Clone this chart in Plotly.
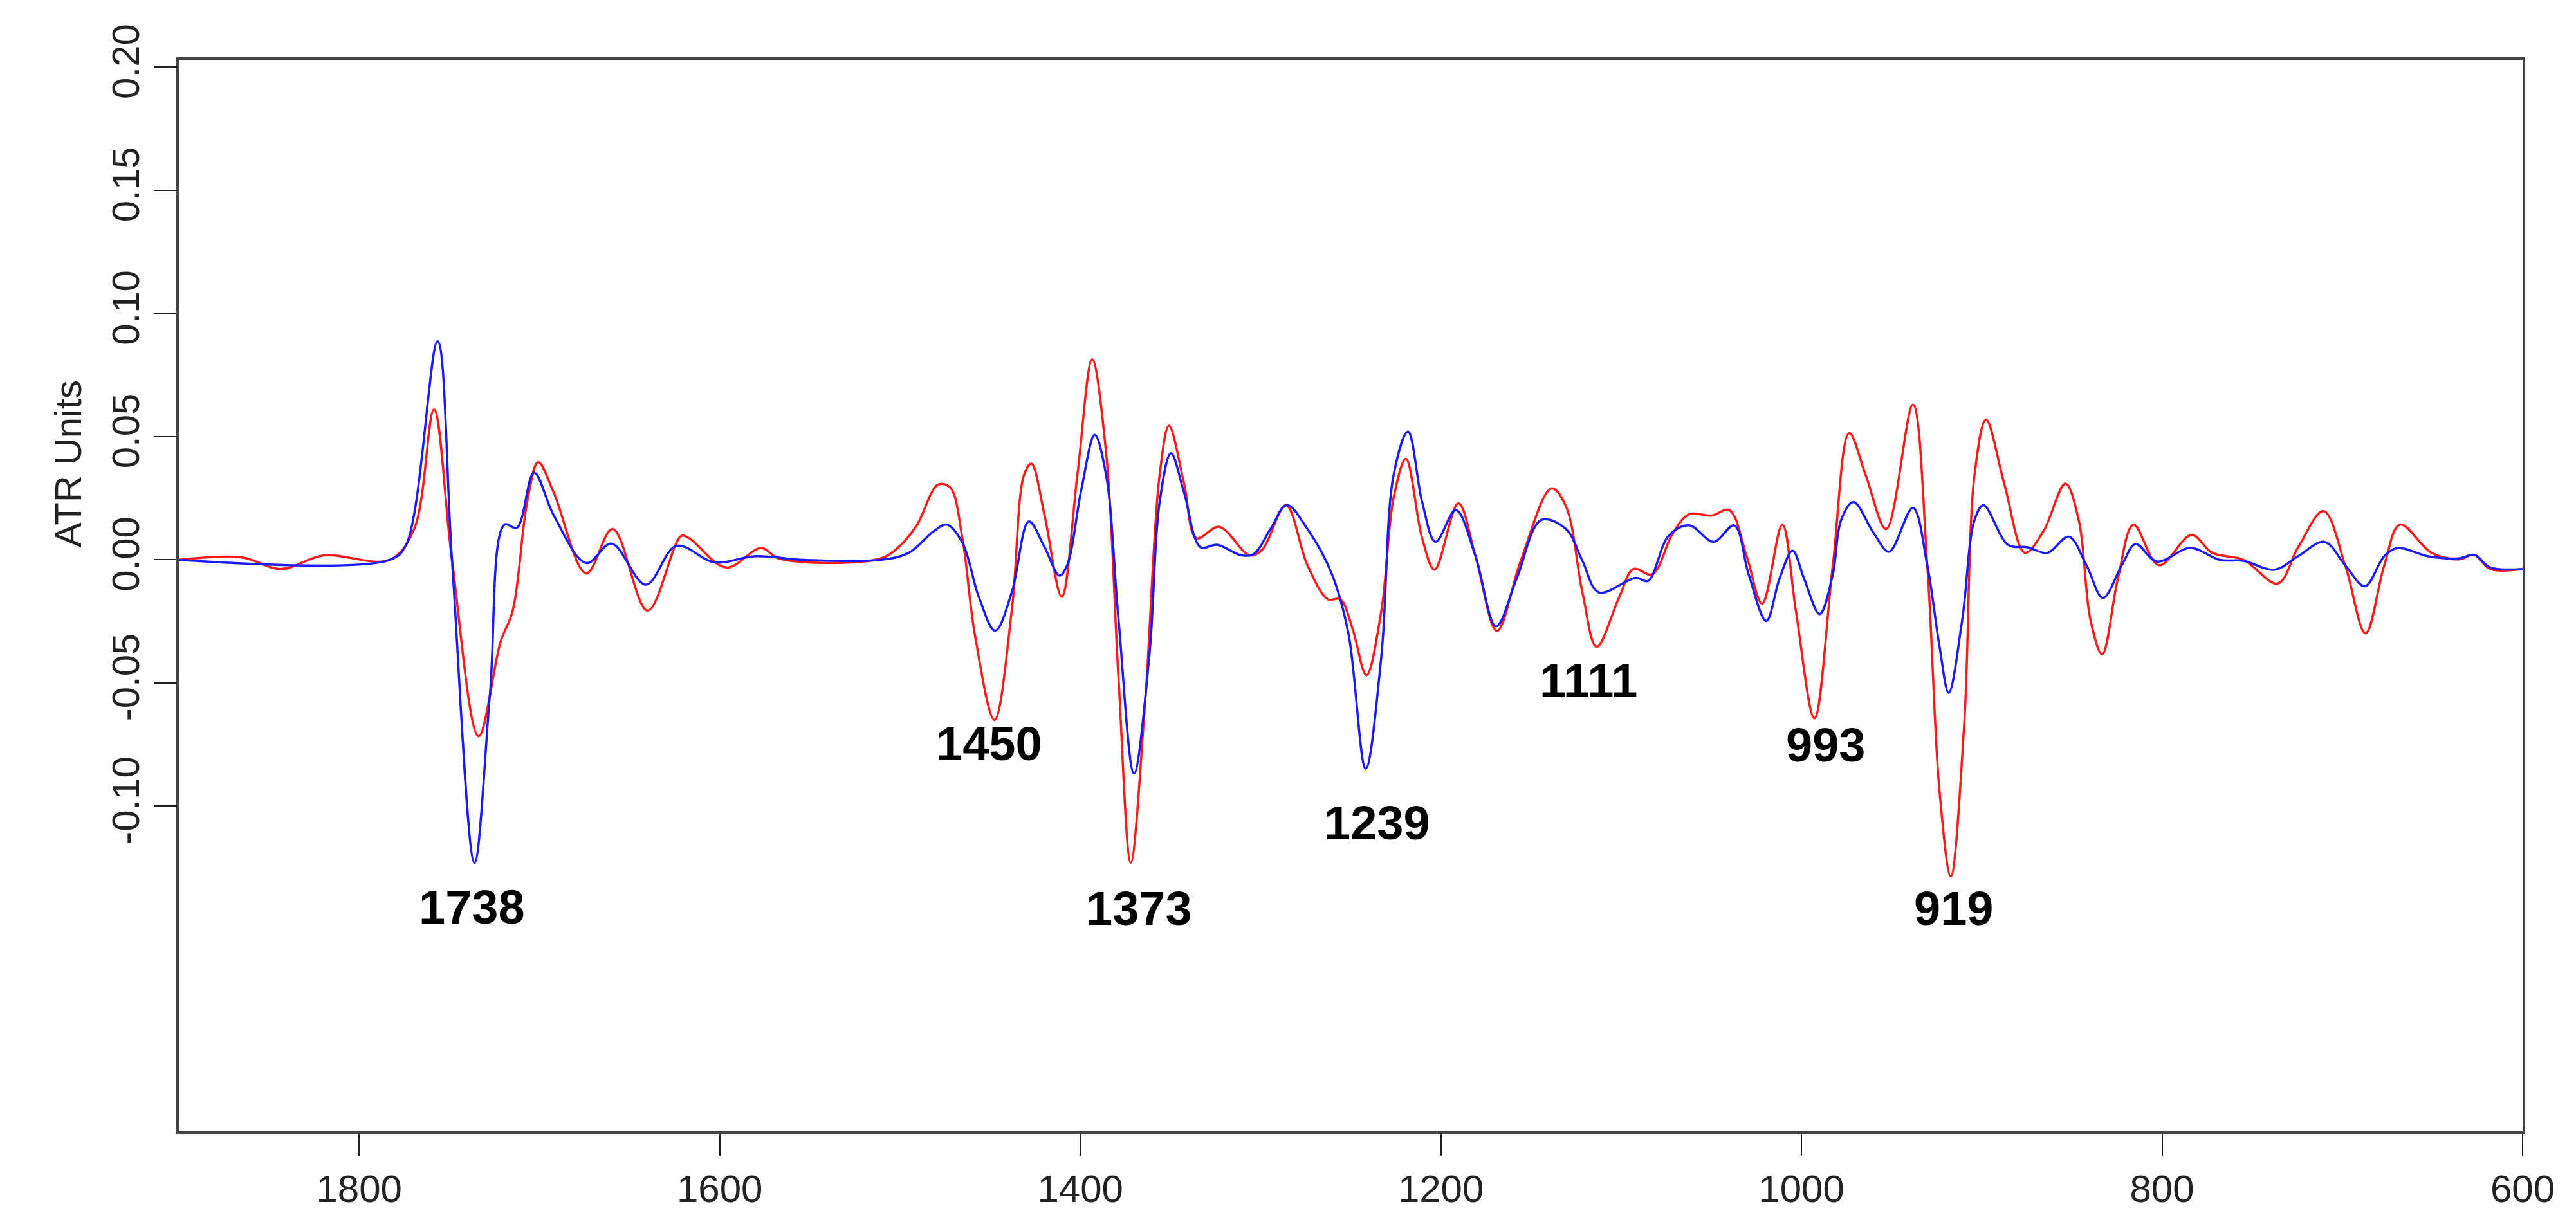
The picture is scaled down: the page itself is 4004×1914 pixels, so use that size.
import plotly.graph_objects as go

# wavenumber (cm-1) / ATR units
red_x = [1900, 1865, 1843.5, 1819.6, 1783, 1769.5, 1758.5, 1748.5, 1733.7, 1721.6, 1714.8, 1706.8, 1700.7,
         1692, 1674, 1659.4, 1640, 1621.4, 1617, 1596.4, 1577, 1567, 1511, 1499.6, 1490.5, 1479, 1472.2,
         1465.4, 1458.6, 1447.6, 1438, 1431.2, 1427.1, 1419.8, 1410.3, 1401.6, 1393.4, 1385.7, 1378.8, 1372,
         1364, 1356, 1350.8, 1342.4, 1335.5, 1323, 1306, 1299, 1286, 1274, 1262.7, 1255.8, 1249, 1241.3,
         1233, 1226.2, 1219.4, 1210.4, 1203.5, 1190.3, 1180.8, 1168.9, 1155.7, 1138.6, 1130.6, 1121.5,
         1113.6, 1101, 1093.1, 1082.8, 1071.4, 1062.3, 1049.8, 1040, 1030.4, 1021.8, 1010.6, 1003.1, 992.8,
         982.6, 973.5, 964.4, 953, 938.2, 930.2, 923.4, 917.2, 909.7, 904, 897.6, 887.5, 876, 865.8, 853.6,
         846.2, 839.7, 833.2, 824.5, 815.8, 801.7, 783.6, 772.3, 754.9, 735.8, 724.5, 710.4, 698.4, 687.1,
         676.7, 668, 650.6, 635.4, 626.7, 618, 600]
red_y = [0, 0.001, -0.0037, 0.0018, 0, 0.0125, 0.061, 0, -0.0716, -0.0334, -0.0206, 0.0235, 0.0397,
         0.0272, -0.0055, 0.0125, -0.0206, 0.0097, 0.0088, -0.0031, 0.0048, 0.0005, 0.0005, 0.006, 0.0143,
         0.0305, 0.0294, 0.0088, -0.0298, -0.065, -0.0206, 0.0345, 0.039, 0.018, -0.015, 0.0345, 0.0814,
         0.0437, -0.0481, -0.1229, -0.0573, 0.0345, 0.0544, 0.0309, 0.0088, 0.0134, 0.0018, 0.0042, 0.0222,
         -0.0022, -0.016, -0.016, -0.0279, -0.0468, -0.0206, 0.0253, 0.041, 0.0088, -0.004, 0.023, 0.0015,
         -0.0288, -0.0004, 0.029, 0.0217, -0.0132, -0.0353, -0.015, -0.0037, -0.0059, 0.0107, 0.0185, 0.018,
         0.0202, 0.0015, -0.0178, 0.0143, -0.0206, -0.0643, -0.0022, 0.0514, 0.0345, 0.0125, 0.063, -0.0022,
         -0.094, -0.1285, -0.0665, 0.0345, 0.0569, 0.0309, 0.0029, 0.0116, 0.0309, 0.0162, -0.0243, -0.0384,
         -0.0077, 0.0143, -0.0022, 0.0101, 0.0029, 0, -0.0096, 0.0051, 0.0198, -0.0022, -0.0298, -0.0022,
         0.0143, 0.0029, 0.0002, 0.002, -0.0037, -0.0037]

blue_x = [1900, 1783, 1774, 1756.5, 1748.5, 1736, 1727.4, 1719.4, 1712.5, 1703, 1692, 1674, 1660, 1641,
          1624, 1603, 1580, 1553.5, 1511, 1495, 1481.3, 1474, 1465.4, 1456.3, 1447.2, 1438, 1428.5, 1419.8,
          1411.6, 1407.3, 1399.3, 1392, 1385.7, 1378.8, 1370.2, 1361.7, 1356, 1349.7, 1342.4, 1333.3, 1324.2,
          1310.5, 1303.7, 1294.5, 1285.4, 1274, 1260.4, 1251.3, 1241.7, 1233, 1226.2, 1218.2, 1210.4, 1202.9,
          1191.7, 1180.8, 1169.4, 1158, 1144.3, 1130.6, 1121.5, 1112.4, 1091.9, 1085.1, 1073.7, 1062.3,
          1048.7, 1037.3, 1029.3, 1019.5, 1012.2, 1004.9, 998.5, 989.9, 982.6, 978, 971.2, 959.8, 951.4,
          938.2, 930.2, 923.4, 918.3, 910.8, 904, 899, 885.4, 874.5, 863.6, 851.7, 841.9, 832.8, 822.3, 814.7,
          802.8, 784.3, 768, 754.9, 737.5, 724.5, 709.9, 698.4, 687.5, 676.7, 669.1, 652.8, 635.4, 626.7, 618,
          600]
blue_y = [0, 0, 0.006, 0.0887, 0, -0.123, -0.054, 0.0143, 0.013, 0.0354, 0.018, -0.0013, 0.0066, -0.0101,
          0.0057, -0.001, 0.0015, 0, 0, 0.0029, 0.0116, 0.0143, 0.007, -0.015, -0.0288, -0.0132, 0.0156,
          0.0051, -0.0064, -0.0022, 0.029, 0.0507, 0.0345, -0.0242, -0.0867, -0.0389, 0.0235, 0.0433, 0.0272,
          0.0051, 0.0061, 0.0018, 0.0024, 0.0125, 0.0222, 0.0125, -0.0059, -0.0298, -0.0848, -0.039, 0.0345,
          0.052, 0.0235, 0.0073, 0.0202, 0.0015, -0.027, -0.0077, 0.0162, 0.0125, -0.0004, -0.0132, -0.0073,
          -0.0086, 0.0097, 0.014, 0.0073, 0.014, -0.0059, -0.0248, -0.0077, 0.0037, -0.0077, -0.022, -0.0059,
          0.0162, 0.0235, 0.0107, 0.0033, 0.0211, -0.0022, -0.0353, -0.054, -0.0242, 0.0162, 0.0222, 0.0061,
          0.0051, 0.0028, 0.0094, -0.0022, -0.0154, -0.0022, 0.0064, -0.0007, 0.0048, 0, -0.0004, -0.004,
          0.0015, 0.0073, -0.0022, -0.0107, 0.0015, 0.0048, 0.0015, 0.0006, 0.002, -0.0031, -0.0037]

# band labels and where they sit
band_labels = ["1738", "1450", "1373", "1239", "1111", "993", "919"]
band_x = [1737.5, 1450.6, 1367.4, 1235.3, 1118.1, 986.5, 915.8]
band_y = [-0.141, -0.0746, -0.1416, -0.1068, -0.049, -0.0752, -0.1416]

y_ticks = [-0.10, -0.05, 0.00, 0.05, 0.10, 0.15, 0.20]
x_ticks = [1800, 1600, 1400, 1200, 1000, 800, 600]

FONT = "Liberation Sans Narrow, Liberation Sans, Arial"
TICK_FONT = dict(family=FONT, size=60, color="#222")

fig = go.Figure()
fig.add_trace(go.Scatter(x=red_x, y=red_y, mode="lines",
                         line=dict(color="#ff1a1a", width=3.5, shape="spline", smoothing=1.0)))
fig.add_trace(go.Scatter(x=blue_x, y=blue_y, mode="lines",
                         line=dict(color="#1a1aff", width=3.5, shape="spline", smoothing=1.0)))

for txt, bx, by in zip(band_labels, band_x, band_y):
    fig.add_annotation(x=bx, y=by, text=f"<b>{txt}</b>", showarrow=False,
                       font=dict(family=FONT, size=74, color="black"))

# y title sits above the axis centre in the original
fig.add_annotation(xref="paper", yref="paper", x=-0.057, y=0.623, text="ATR Units",
                   textangle=-90, showarrow=False, font=dict(family=FONT, size=58, color="#222"))

fig.update_layout(
    width=4004, height=1914,
    paper_bgcolor="white", plot_bgcolor="white",
    showlegend=False,
    margin=dict(l=270, r=91, t=85, b=163),
    xaxis=dict(range=[1900, 600], tickvals=x_ticks, ticks="outside", ticklen=34,
               tickwidth=2, tickcolor="#222", showgrid=False, zeroline=False,
               showline=True, linecolor="#444", linewidth=4, mirror=True,
               tickfont=TICK_FONT),
    yaxis=dict(range=[-0.232, 0.203], tickvals=y_ticks, ticktext=[f"{v:.2f}" for v in y_ticks],
               ticks="outside", ticklen=34, tickwidth=2, tickcolor="#222", tickangle=-90,
               showgrid=False, zeroline=False, showline=True, linecolor="#444", linewidth=4,
               mirror=True, tickfont=TICK_FONT),
)

fig.write_html("out.html")
